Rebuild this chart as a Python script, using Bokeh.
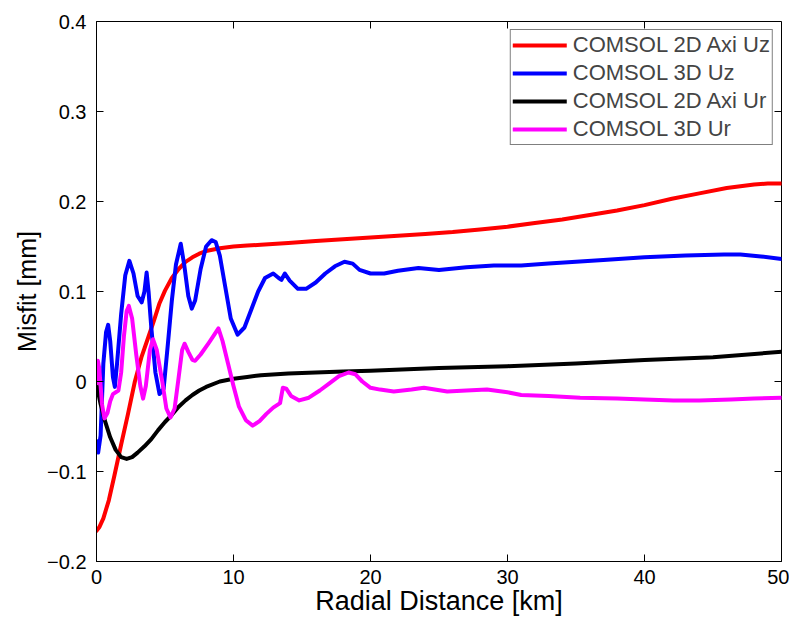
import math
from bokeh.plotting import figure
from bokeh.models import FixedTicker, Legend, LegendItem, Range1d
from bokeh.embed import file_html
from bokeh.resources import INLINE

# ---- data ----
x_ticks = [0, 10, 20, 30, 40, 50]
x_tick_labels = ["0", "10", "20", "30", "40", "50"]
y_ticks = [-0.2, -0.1, 0.0, 0.1, 0.2, 0.3, 0.4]
y_tick_labels = ["\u22120.2", "\u22120.1", "0", "0.1", "0.2", "0.3", "0.4"]

axi_uz_x = [0, 0.2, 0.5, 0.9, 1.3, 1.8, 2.3, 2.8, 3.3, 3.8, 4.2, 4.6, 5.0, 5.5, 6.0, 6.5,
            7.0, 7.5, 8.0, 9, 10, 11, 12, 14, 16, 18, 20, 22, 24, 26, 28, 30, 32, 34, 36,
            38, 40, 42, 44, 46, 48, 49, 50]
axi_uz_y = [-0.166, -0.162, -0.152, -0.132, -0.105, -0.070, -0.036, 0.000, 0.028, 0.050,
            0.068, 0.087, 0.101, 0.115, 0.125, 0.133, 0.138, 0.142, 0.145, 0.148, 0.150,
            0.151, 0.152, 0.154, 0.156, 0.158, 0.160, 0.162, 0.164, 0.166, 0.169, 0.172,
            0.176, 0.180, 0.185, 0.190, 0.196, 0.203, 0.209, 0.215, 0.219, 0.220, 0.220]

uz3d_x = [0, 0.12, 0.3, 0.5, 0.7, 0.85, 1.0, 1.2, 1.34, 1.5, 1.8, 2.1, 2.4, 2.7, 3.0, 3.3,
          3.5, 3.66, 3.8, 4.0, 4.3, 4.6, 4.9, 5.2, 5.5, 5.8, 6.15, 6.4, 6.7, 6.95, 7.2, 7.6,
          8.0, 8.4, 8.7, 9.0, 9.4, 9.8, 10.3, 10.8, 11.3, 11.8, 12.3, 12.9, 13.3, 13.5,
          13.75, 14.1, 14.7, 15.3, 16.0, 16.7, 17.4, 18.1, 18.7, 19.2, 20, 21, 22, 23.5,
          25, 27, 29, 31, 33, 35, 37, 40, 43, 45.8, 47, 48.5, 50]
uz3d_y = [-0.066, -0.079, -0.060, 0.020, 0.055, 0.063, 0.045, 0.005, -0.006, 0.020, 0.075,
          0.118, 0.134, 0.120, 0.095, 0.088, 0.100, 0.121, 0.100, 0.060, 0.010, -0.014,
          -0.008, 0.040, 0.090, 0.130, 0.153, 0.130, 0.095, 0.081, 0.090, 0.125, 0.150,
          0.157, 0.155, 0.140, 0.105, 0.070, 0.052, 0.060, 0.080, 0.100, 0.115, 0.120,
          0.115, 0.113, 0.120, 0.112, 0.103, 0.103, 0.110, 0.120, 0.128, 0.133, 0.131,
          0.124, 0.120, 0.120, 0.123, 0.126, 0.124, 0.127, 0.129, 0.129, 0.131, 0.133,
          0.135, 0.138, 0.140, 0.141, 0.141, 0.139, 0.136]

axi_ur_x = [0, 0.3, 0.6, 1.0, 1.4, 1.8, 2.2, 2.6, 3.0, 3.5, 4.0, 4.5, 5.0, 5.5, 6.0, 6.5,
            7.0, 7.5, 8.0, 9.0, 10, 11, 12, 14, 16, 18, 20, 25, 30, 35, 40, 45, 50]
axi_ur_y = [-0.003, -0.025, -0.043, -0.062, -0.076, -0.084, -0.086, -0.084, -0.079, -0.072,
            -0.064, -0.054, -0.045, -0.037, -0.028, -0.021, -0.015, -0.010, -0.006, 0.000,
            0.003, 0.005, 0.007, 0.009, 0.010, 0.011, 0.012, 0.015, 0.017, 0.020, 0.024,
            0.027, 0.033]

ur3d_x = [0, 0.1, 0.2, 0.4, 0.58, 0.8, 1.0, 1.2, 1.6, 1.8, 2.0, 2.2, 2.36, 2.6, 2.9, 3.2,
          3.4, 3.6, 3.9, 4.12, 4.4, 4.8, 5.1, 5.4, 5.7, 6.0, 6.25, 6.43, 6.7, 7.0, 7.2, 7.6,
          8.2, 8.6, 8.9, 9.2, 9.6, 10.0, 10.4, 10.9, 11.4, 11.9, 12.4, 12.9, 13.4, 13.6,
          13.85, 14.2, 14.8, 15.5, 16.3, 17.0, 17.7, 18.4, 18.9, 19.4, 20.0, 20.7, 21.7,
          23.0, 23.9, 25.6, 27, 28.5, 30, 31, 33, 35.3, 38, 40, 42.1, 44, 46.3, 48, 50]
ur3d_y = [-0.002, 0.023, 0.015, -0.025, -0.041, -0.035, -0.022, -0.014, -0.010, 0.010,
          0.050, 0.078, 0.084, 0.070, 0.030, -0.005, -0.019, -0.005, 0.035, 0.047, 0.035,
          0.000, -0.030, -0.040, -0.030, 0.005, 0.035, 0.042, 0.033, 0.024, 0.023, 0.030,
          0.043, 0.052, 0.059, 0.045, 0.020, -0.005, -0.028, -0.043, -0.049, -0.044,
          -0.036, -0.029, -0.024, -0.007, -0.008, -0.016, -0.021, -0.018, -0.010, -0.002,
          0.006, 0.010, 0.008, 0.000, -0.007, -0.009, -0.011, -0.009, -0.007, -0.011,
          -0.010, -0.009, -0.012, -0.015, -0.016, -0.018, -0.019, -0.020, -0.021, -0.021,
          -0.020, -0.019, -0.018]

series_names = ["COMSOL 2D Axi Uz", "COMSOL 3D Uz", "COMSOL 2D Axi Ur", "COMSOL 3D Ur"]
series_colors = ["#ff0000", "#0000ff", "#000000", "#ff00ff"]

FONT = "Liberation Sans"

p = figure(frame_width=685, frame_height=540,
           x_range=Range1d(x_ticks[0], x_ticks[-1]), y_range=Range1d(y_ticks[0], y_ticks[-1]),
           output_backend="svg", toolbar_location=None,
           min_border_left=96, min_border_top=21, min_border_right=8, min_border_bottom=0,
           background_fill_color="white", border_fill_color="white")
p.grid.visible = False
p.outline_line_color = "black"
p.outline_line_width = 1

def style_axis(ax, ticks, labels):
    ax.ticker = FixedTicker(ticks=ticks)
    ax.major_label_overrides = {t: l for t, l in zip(ticks, labels)}
    ax.major_tick_in = 7
    ax.major_tick_out = 0
    ax.minor_tick_in = 0
    ax.minor_tick_out = 0
    ax.axis_line_color = "black"
    ax.major_tick_line_color = "black"
    ax.major_label_text_font = FONT
    ax.major_label_text_color = "black"
    ax.major_label_text_font_size = "20px"
    ax.axis_label_text_font = FONT
    ax.axis_label_text_font_style = "normal"
    ax.axis_label_text_color = "black"

xa = p.xaxis[0]
ya = p.yaxis[0]
style_axis(xa, x_ticks, x_tick_labels)
style_axis(ya, y_ticks, y_tick_labels)
xa.major_label_standoff = 8
ya.major_label_standoff = 10
xa.axis_label = "Radial Distance [km]"
ya.axis_label = "Misfit [mm]"
xa.axis_label_text_font_size = "27px"
ya.axis_label_text_font_size = "25px"
xa.axis_label_standoff = -1
ya.axis_label_standoff = 3

# inward ticks on the top and right edges of the box (MATLAB "box on")
p.ray(x=x_ticks, y=[y_ticks[-1]] * len(x_ticks), length=7, length_units="screen",
      angle=-math.pi / 2, line_color="black", line_width=1)
p.ray(x=[x_ticks[-1]] * len(y_ticks), y=y_ticks, length=7, length_units="screen",
      angle=math.pi, line_color="black", line_width=1)

items = []
for xs, ys, name, col in zip([axi_uz_x, uz3d_x, axi_ur_x, ur3d_x],
                             [axi_uz_y, uz3d_y, axi_ur_y, ur3d_y],
                             series_names, series_colors):
    r = p.line(xs, ys, line_color=col, line_width=4, line_join="round", line_cap="round")
    items.append(LegendItem(label=name, renderers=[r]))

legend = Legend(items=items, location="top_right", margin=8, padding=2, spacing=2,
                glyph_width=54, glyph_height=20, label_height=20, label_standoff=6,
                label_text_font=FONT, label_text_font_size="22px",
                border_line_color="black", border_line_width=1,
                background_fill_color="white", background_fill_alpha=1.0)
p.add_layout(legend)

open("out.html", "w").write(file_html(p, INLINE))
